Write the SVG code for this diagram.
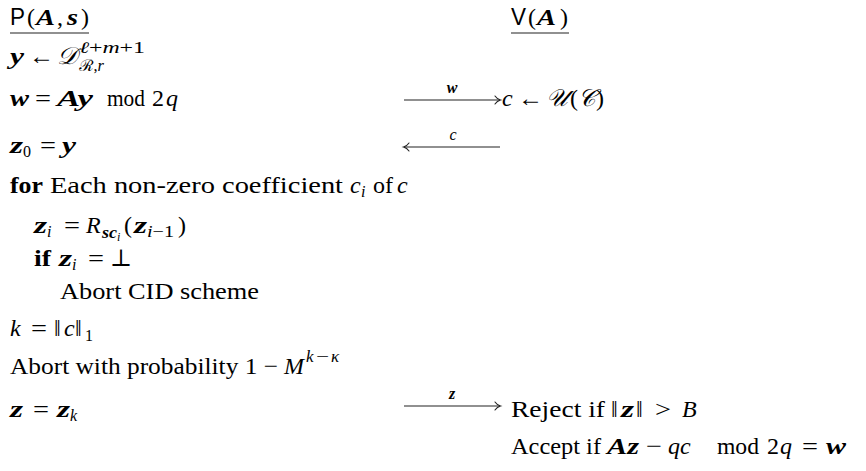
<svg xmlns="http://www.w3.org/2000/svg" width="866" height="471" viewBox="0 0 866 471">
<style>
text{font-family:"Liberation Serif","DejaVu Serif",serif;font-size:24px;fill:#000}
.b{font-weight:bold}
.bi{font-weight:bold;font-style:italic}
.i{font-style:italic}
.sf{font-family:"Liberation Sans",sans-serif}
.s{font-size:16px}
.ss{font-size:12px}
.cal{font-family:"DejaVu Serif","Noto Sans",serif;font-style:italic}
.ln{stroke:#222;stroke-width:1.1;fill:none}
.hd{stroke:#222;stroke-width:1.1;fill:none;stroke-linecap:round}
</style>
<g id="prover-header">
<text x="10" y="25" class="sf" textLength="15" lengthAdjust="spacingAndGlyphs">P</text>
<text x="27" y="25">(</text>
<text x="36" y="25" class="bi" textLength="19" lengthAdjust="spacingAndGlyphs">A</text>
<text x="57" y="25">,</text>
<text x="67" y="25" class="bi" textLength="11" lengthAdjust="spacingAndGlyphs">s</text>
<text x="81" y="25">)</text>
<line class="ln" x1="10" y1="33" x2="89" y2="33"/>
</g>
<g id="verifier-header">
<text x="511" y="25" class="sf" textLength="15" lengthAdjust="spacingAndGlyphs">V</text>
<text x="528" y="25">(</text>
<text x="537" y="25" class="bi" textLength="19" lengthAdjust="spacingAndGlyphs">A</text>
<text x="560" y="25">)</text>
<line class="ln" x1="511" y1="33" x2="569" y2="33"/>
</g>
<g id="p-sample-y">
<text x="10" y="64" class="bi" textLength="14" lengthAdjust="spacingAndGlyphs">y</text>
<text x="29" y="64" textLength="25" lengthAdjust="spacingAndGlyphs">←</text>
<text x="57" y="64" class="cal" textLength="20" lengthAdjust="spacingAndGlyphs">𝒟</text>
<text x="79" y="53" class="s" textLength="66" lengthAdjust="spacingAndGlyphs"><tspan class="i">ℓ</tspan>+<tspan class="i">m</tspan>+1</text>
<text x="79" y="71" class="s" textLength="25" lengthAdjust="spacingAndGlyphs"><tspan class="cal">ℛ</tspan>,<tspan class="i">r</tspan></text>
</g>
<g id="p-commit">
<text x="10" y="106" class="bi" textLength="19" lengthAdjust="spacingAndGlyphs">w</text>
<text x="35" y="106" textLength="16" lengthAdjust="spacingAndGlyphs">=</text>
<text x="57" y="106" class="bi" textLength="36" lengthAdjust="spacingAndGlyphs">Ay</text>
<text x="107" y="106" textLength="38" lengthAdjust="spacingAndGlyphs">mod</text>
<text x="152" y="106">2</text>
<text x="166" y="106" class="i">q</text>
</g>
<g id="v-challenge">
<text x="502" y="106" class="i">c</text>
<text x="518" y="106" textLength="25" lengthAdjust="spacingAndGlyphs">←</text>
<text x="546" y="106" class="cal" textLength="22" lengthAdjust="spacingAndGlyphs">𝒰</text>
<text x="570" y="106">(</text>
<text x="578" y="106" class="cal" textLength="17" lengthAdjust="spacingAndGlyphs">𝒞</text>
<text x="596" y="106">)</text>
</g>
<g id="p-z0">
<text x="10" y="153" class="bi" textLength="13" lengthAdjust="spacingAndGlyphs">z</text>
<text x="23" y="157" class="s">0</text>
<text x="40" y="153" textLength="16" lengthAdjust="spacingAndGlyphs">=</text>
<text x="62" y="153" class="bi" textLength="14" lengthAdjust="spacingAndGlyphs">y</text>
</g>
<g id="p-for">
<text x="10" y="193" class="b" textLength="33" lengthAdjust="spacingAndGlyphs">for</text>
<text x="50" y="193" textLength="293" lengthAdjust="spacingAndGlyphs">Each non-zero coefficient</text>
<text x="350" y="193" class="i">c</text>
<text x="361" y="197" class="s i">i</text>
<text x="373" y="193" textLength="20" lengthAdjust="spacingAndGlyphs">of</text>
<text x="397" y="193" class="i">c</text>
</g>
<g id="p-rej">
<text x="34" y="233" class="bi" textLength="13" lengthAdjust="spacingAndGlyphs">z</text>
<text x="47" y="237" class="s i">i</text>
<text x="64" y="233" textLength="16" lengthAdjust="spacingAndGlyphs">=</text>
<text x="86" y="233" class="i">R</text>
<text x="102" y="238" class="s bi" textLength="15" lengthAdjust="spacingAndGlyphs">sc</text>
<text x="117" y="241" class="ss i">i</text>
<text x="124" y="233">(</text>
<text x="134" y="233" class="bi" textLength="13" lengthAdjust="spacingAndGlyphs">z</text>
<text x="147" y="237" class="s" textLength="27" lengthAdjust="spacingAndGlyphs"><tspan class="i">i</tspan>−1</text>
<text x="178" y="233">)</text>
</g>
<g id="p-if">
<text x="34" y="266" class="b" textLength="17" lengthAdjust="spacingAndGlyphs">if</text>
<text x="59" y="266" class="bi" textLength="13" lengthAdjust="spacingAndGlyphs">z</text>
<text x="72" y="270" class="s i">i</text>
<text x="88" y="266" textLength="16" lengthAdjust="spacingAndGlyphs">=</text>
<text x="110" y="266" textLength="22" lengthAdjust="spacingAndGlyphs">⊥</text>
</g>
<g id="p-abort-cid">
<text x="60" y="299" textLength="199" lengthAdjust="spacingAndGlyphs">Abort CID scheme</text>
</g>
<g id="p-k">
<text x="10" y="336" class="i">k</text>
<text x="31" y="336" textLength="16" lengthAdjust="spacingAndGlyphs">=</text>
<text x="54" y="336">‖</text>
<text x="64" y="336" class="i">c</text>
<text x="75" y="336">‖</text>
<text x="85" y="341" class="s">1</text>
</g>
<g id="p-abort-prob">
<text x="10" y="374" textLength="268" lengthAdjust="spacingAndGlyphs">Abort with probability 1 −</text>
<text x="284" y="374" class="i">M</text>
<text x="306" y="362" class="i" style="font-size:17px">k</text>
<text x="316" y="362" style="font-size:17px" textLength="13" lengthAdjust="spacingAndGlyphs">−</text>
<text x="331" y="362" class="i" style="font-size:17px">κ</text>
</g>
<g id="p-z">
<text x="10" y="417" class="bi" textLength="13" lengthAdjust="spacingAndGlyphs">z</text>
<text x="33" y="417" textLength="16" lengthAdjust="spacingAndGlyphs">=</text>
<text x="57" y="417" class="bi" textLength="13" lengthAdjust="spacingAndGlyphs">z</text>
<text x="70" y="421" class="s i">k</text>
</g>
<g id="v-reject">
<text x="511" y="417" textLength="94" lengthAdjust="spacingAndGlyphs">Reject if</text>
<text x="611" y="417">‖</text>
<text x="621" y="417" class="bi" textLength="13" lengthAdjust="spacingAndGlyphs">z</text>
<text x="636" y="417">‖</text>
<text x="655" y="417" textLength="16" lengthAdjust="spacingAndGlyphs">&gt;</text>
<text x="682" y="417" class="i">B</text>
</g>
<g id="v-accept">
<text x="511" y="454" textLength="90" lengthAdjust="spacingAndGlyphs">Accept if</text>
<text x="607" y="454" class="bi" textLength="32" lengthAdjust="spacingAndGlyphs">Az</text>
<text x="646" y="454" textLength="16" lengthAdjust="spacingAndGlyphs">−</text>
<text x="668" y="454" class="i">qc</text>
<text x="717" y="454" textLength="42" lengthAdjust="spacingAndGlyphs">mod</text>
<text x="767" y="454">2</text>
<text x="780" y="454" class="i">q</text>
<text x="802" y="454" textLength="16" lengthAdjust="spacingAndGlyphs">=</text>
<text x="826" y="454" class="bi" textLength="20" lengthAdjust="spacingAndGlyphs">w</text>
</g>
<g id="connectors">
<line class="ln" x1="404" y1="100" x2="500" y2="100"/>
<path class="hd" d="M495,96 Q497,99 500.5,100 Q497,101 495,104"/>
<text x="452" y="93" class="s bi" text-anchor="middle">w</text>
<line class="ln" x1="404" y1="147" x2="500" y2="147"/>
<path class="hd" d="M409,143 Q407,146 403.5,147 Q407,148 409,151"/>
<text x="453" y="140" class="s i" text-anchor="middle">c</text>
<line class="ln" x1="404" y1="406" x2="500" y2="406"/>
<path class="hd" d="M495,402 Q497,405 500.5,406 Q497,407 495,410"/>
<text x="452" y="399" class="s bi" text-anchor="middle">z</text>
</g>
</svg>
